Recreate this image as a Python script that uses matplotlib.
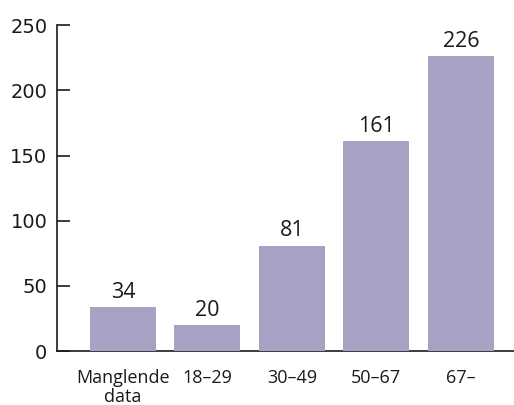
import numpy as np
import matplotlib
matplotlib.use('Agg')
import matplotlib.pyplot as plt

categories = ['Manglende\ndata', '18–29', '30–49', '50–67', '67–']
values = [34, 20, 81, 161, 226]
yticks = [0, 50, 100, 150, 200, 250]

fig = plt.figure(figsize=(5.14, 4.05), dpi=100)
ax = fig.add_axes([0.111, 0.133, 0.889, 0.805])

x = np.arange(len(categories))
bars = ax.bar(x, values, width=0.78, color='#a6a2c4', zorder=1)

for xi, v in zip(x, values):
    ax.annotate(str(v), (xi, v), xytext=(0, 3), textcoords='offset points',
                ha='center', va='bottom', fontsize=15.5, family='Open Sans',
                color='#1a1a1a')

ax.set_xlim(-0.78, 4.63)
ax.set_ylim(0, 250)
ax.set_yticks(yticks)
ax.set_xticks(x)
ax.set_xticklabels(categories, family='Open Sans', fontsize=13,
                   linespacing=1.05, color='#1a1a1a')
ax.tick_params(axis='x', length=0, pad=13)
ax.tick_params(axis='y', direction='in', length=9, width=1.2, pad=7,
               labelsize=14, colors='#1a1a1a')

for s in ['top', 'right']:
    ax.spines[s].set_visible(False)
ax.spines['left'].set_linewidth(1.2)
ax.spines['bottom'].set_linewidth(1.2)
ax.spines['left'].set_color('#1a1a1a')
ax.spines['bottom'].set_color('#1a1a1a')
ax.spines['bottom'].set_zorder(0)

fig.savefig('out.png', dpi=100)
